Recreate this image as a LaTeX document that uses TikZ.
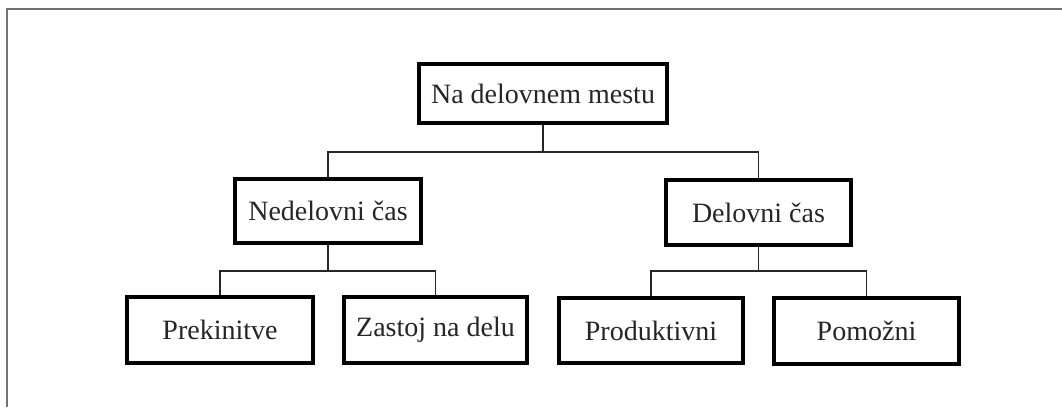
\documentclass[tikz,border=0pt]{standalone}
\usepackage{fontspec}
\setmainfont{Liberation Serif}
\begin{document}
\begin{tikzpicture}[x=1pt,y=-1pt,
  box/.style={draw=black,line width=4pt,fill=white,inner sep=0pt,
    font=\fontsize{28}{30}\selectfont,text=black!85},
  link/.style={draw=black!85,line width=1.4pt},
  frameline/.style={draw=black!55,line width=1.6pt}]
\useasboundingbox (0,0) rectangle (1062,407);
% outer frame (top and left edges)
\draw[frameline] (7,407) -- (7,9) -- (1062,9);

% nodes
\node[box,minimum width=248pt,minimum height=59pt] (root) at (543,93.5) {Na delovnem mestu};
\node[box,minimum width=186pt,minimum height=64pt] (ned) at (328,211) {Nedelovni čas};
\node[box,minimum width=185pt,minimum height=65pt] (del) at (758.5,212.5) {Delovni čas};
\node[box,minimum width=186pt,minimum height=66pt] (pre) at (220,330) {Prekinitve};
\node[box,minimum width=183pt,minimum height=66pt] (zas) at (435.5,330) {Zastoj na delu};
\node[box,minimum width=184pt,minimum height=65pt] (pro) at (651,330.5) {Produktivni};
\node[box,minimum width=185pt,minimum height=66pt] (pom) at (866.5,331) {Pomožni};

% junctions of the connectors
\coordinate (j0) at (543,152);
\coordinate (j1) at (328,271);
\coordinate (j2) at (758.5,271);

\draw[link] (root.south) -- (j0);
\draw[link] (ned.north) |- (j0);
\draw[link] (del.north) |- (j0);
\draw[link] (ned.south) -- (j1);
\draw[link] (pre.north) |- (j1);
\draw[link] (zas.north) |- (j1);
\draw[link] (del.south) -- (j2);
\draw[link] (pro.north) |- (j2);
\draw[link] (pom.north) |- (j2);
\end{tikzpicture}
\end{document}
